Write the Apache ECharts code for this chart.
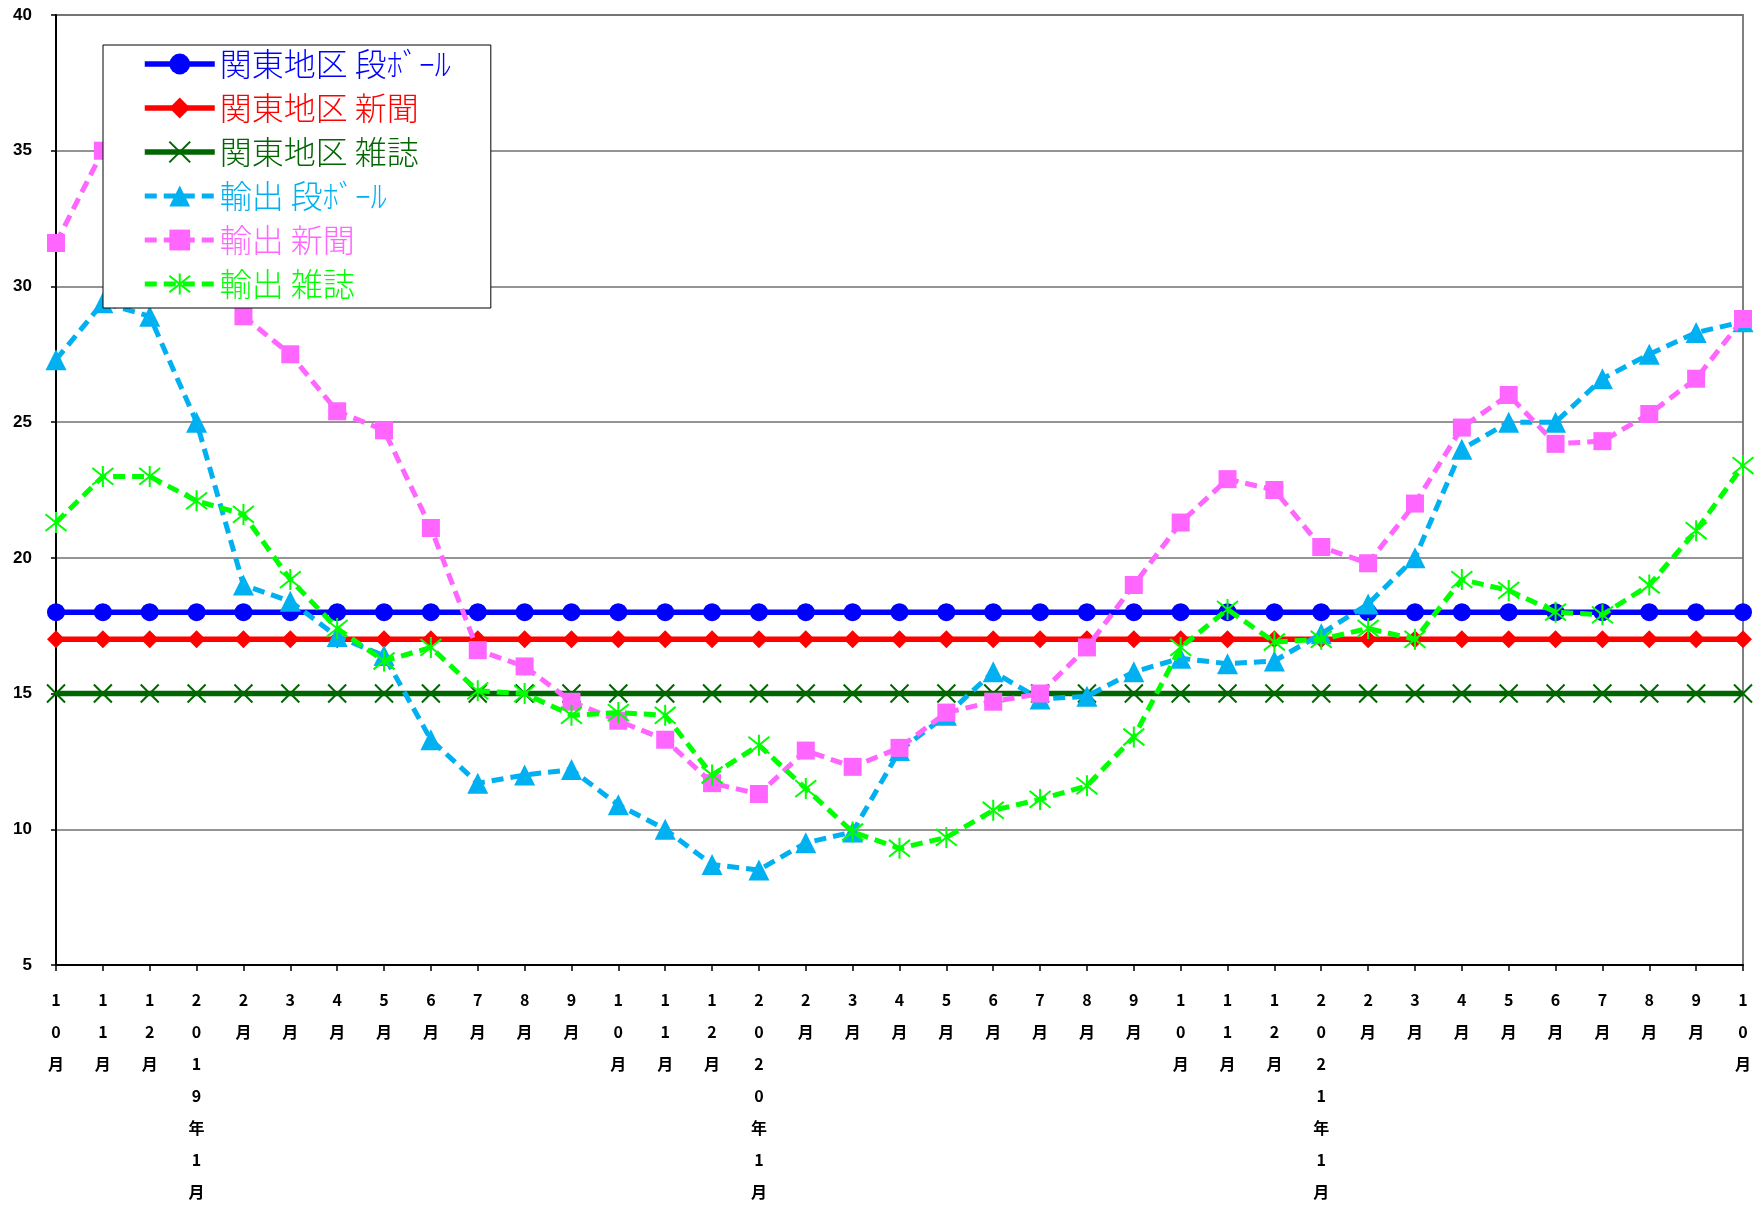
<!DOCTYPE html>
<html><head><meta charset="utf-8">
<script src="https://cdn.jsdelivr.net/npm/echarts@6/dist/echarts.min.js"></script>
<style>html,body{margin:0;padding:0;background:#fff}#c{width:1754px;height:1208px}</style>
</head><body><div id="c"></div>
<script>
// x-axis categories (2018年10月 .. 2021年10月)
const categories = ['10月','11月','12月','2019年1月','2月','3月','4月','5月','6月','7月','8月','9月','10月','11月','12月',
  '2020年1月','2月','3月','4月','5月','6月','7月','8月','9月','10月','11月','12月',
  '2021年1月','2月','3月','4月','5月','6月','7月','8月','9月','10月'];

const seriesNames = ['関東地区 段ﾎﾞｰﾙ','関東地区 新聞','関東地区 雑誌','輸出 段ﾎﾞｰﾙ','輸出 新聞','輸出 雑誌'];

const kantoDanball = [18,18,18,18,18,18,18,18,18,18,18,18,18,18,18,18,18,18,18,18,18,18,18,18,18,18,18,18,18,18,18,18,18,18,18,18,18];
const kantoShinbun = [17,17,17,17,17,17,17,17,17,17,17,17,17,17,17,17,17,17,17,17,17,17,17,17,17,17,17,17,17,17,17,17,17,17,17,17,17];
const kantoZasshi  = [15,15,15,15,15,15,15,15,15,15,15,15,15,15,15,15,15,15,15,15,15,15,15,15,15,15,15,15,15,15,15,15,15,15,15,15,15];
const exportDanball = [27.3,29.4,28.9,25.0,19.0,18.4,17.1,16.4,13.3,11.7,12.0,12.2,10.9,10.0,8.7,8.5,9.5,9.9,12.9,14.2,15.8,14.8,14.9,15.8,16.3,16.1,16.2,17.2,18.3,20.0,24.0,25.0,25.0,26.6,27.5,28.3,28.7];
const exportShinbun = [31.6,35.0,33.8,31.2,28.9,27.5,25.4,24.7,21.1,16.6,16.0,14.7,14.0,13.3,11.7,11.3,12.9,12.3,13.0,14.3,14.7,15.0,16.7,19.0,21.3,22.9,22.5,20.4,19.8,22.0,24.8,26.0,24.2,24.3,25.3,26.6,28.8];
const exportZasshi  = [21.3,23.0,23.0,22.1,21.6,19.2,17.4,16.2,16.7,15.1,15.0,14.2,14.3,14.2,12.0,13.1,11.5,9.9,9.3,9.7,10.7,11.1,11.6,13.4,16.7,18.1,16.9,17.0,17.4,17.0,19.2,18.8,18.0,17.9,19.0,21.0,23.4];

const yTicks = [5,10,15,20,25,30,35,40];

const colors = ['#0000FF','#FF0000','#006600','#00B0F0','#FF66FF','#00FF00'];
const xPath = 'path://M1,1L9,9M9,1L1,9';
const starPath = 'path://M1,1L9,9M9,1L1,9M5,0L5,10';
const dash = [12, 7];

const chart = echarts.init(document.getElementById('c'));
const valueLists = [kantoDanball, kantoShinbun, kantoZasshi, exportDanball, exportShinbun, exportZasshi];
const symbols = ['circle','diamond',xPath,'triangle','rect',starPath];
const symbolSizes = [18,18,18,21,18,21];

const series = valueLists.map((vals, i) => {
  const isExport = i >= 3;
  const isPath = symbols[i].indexOf('path://') === 0;
  return {
    name: seriesNames[i],
    type: 'line',
    data: vals,
    symbol: symbols[i],
    symbolSize: symbolSizes[i],
    showAllSymbol: true,
    lineStyle: isExport
      ? { color: colors[i], width: 5, type: dash }
      : { color: colors[i], width: 5.5, type: 'solid' },
    itemStyle: isPath
      ? { color: colors[i], borderColor: colors[i], borderWidth: 2 }
      : { color: colors[i], borderWidth: 0 },
    emphasis: { disabled: true },
    z: 2 + i * 0.01
  };
});

chart.setOption({
  animation: false,
  backgroundColor: '#fff',
  grid: { left: 56, right: 9, top: 15, bottom: 242, show: true, borderColor: '#808080', borderWidth: 2, containLabel: false },
  legend: {
    left: 103, top: 45, orient: 'vertical',
    backgroundColor: '#fff', borderColor: '#000', borderWidth: 1,
    padding: [3, 40, 8, 39],
    itemWidth: 70, itemHeight: 26, itemGap: 12,
    z: 10,
    lineStyle: { width: 'inherit', type: 'inherit' },
    textStyle: { fontSize: 32, fontFamily: 'Noto Sans CJK JP', fontWeight: 300 },
    data: seriesNames.map((n, i) => ({ name: n, textStyle: { color: colors[i] } }))
  },
  xAxis: {
    type: 'category', data: categories, boundaryGap: false,
    axisLine: { lineStyle: { color: '#000', width: 2 } },
    axisTick: { show: true, interval: 0, length: 6, lineStyle: { color: '#000', width: 1.5 } },
    axisLabel: {
      interval: 0, hideOverlap: false, margin: 19,
      fontSize: 16, lineHeight: 32, fontWeight: 'bold', fontFamily: 'Noto Sans CJK JP', color: '#000',
      formatter: v => v.split('').join('\n')
    },
    splitLine: { show: false }
  },
  yAxis: {
    type: 'value', min: yTicks[0], max: yTicks[yTicks.length - 1], interval: 5,
    axisLine: { show: true, lineStyle: { color: '#000', width: 2 } },
    axisTick: { show: true, length: 5, lineStyle: { color: '#000', width: 1.5 } },
    axisLabel: { margin: 24, fontSize: 17, fontWeight: 'bold', fontFamily: 'Liberation Sans', color: '#000' },
    splitLine: { show: true, lineStyle: { color: '#707070', width: 1.5 } }
  },
  series: series
});
</script></body></html>
